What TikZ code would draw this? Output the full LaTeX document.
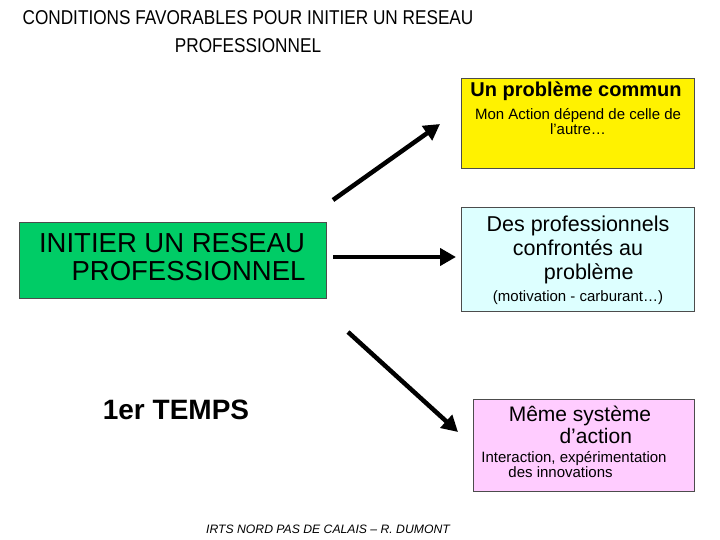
\documentclass[tikz,border=0pt]{standalone}
\usepackage{fontspec}
\setmainfont{Liberation Sans}
\usetikzlibrary{arrows.meta}
\begin{document}
\begin{tikzpicture}[x=1pt,y=-1pt,
  box/.style={draw=black!70,line width=0.8pt},
  small/.style={font=\fontsize{15}{15}\selectfont,align=center},
  arr/.style={line width=4.5pt,-{Triangle[length=16pt,width=17pt]}}]
\useasboundingbox (0,0) rectangle (720,540);
\node[font=\fontsize{20}{28}\selectfont,align=center,xscale=0.86] (title) at (248,32) {CONDITIONS FAVORABLES POUR INITIER UN RESEAU\\PROFESSIONNEL};
\filldraw[box,fill=yellow] (461,78) rectangle (694,168);
\node[font=\bfseries\fontsize{20}{22}\selectfont] (t1) at (576,91) {Un problème commun};
\node[small] (t1b) at (578,122) {Mon Action dépend de celle de\\ l’autre…};
\coordinate (yb) at (440,124);
\filldraw[box,fill={rgb,255:red,0;green,204;blue,102}] (19,222) rectangle (326,298);
\node[font=\fontsize{27.5}{28}\selectfont,align=center] (g) at (172,257) {INITIER UN RESEAU\\\hspace*{1.2em}PROFESSIONNEL};
\filldraw[box,fill={rgb,255:red,221;green,255;blue,255}] (461,207) rectangle (694,311);
\node[font=\fontsize{21.5}{24}\selectfont,align=center] (t2) at (578,250) {Des professionnels\\ confrontés au\\ \hspace*{1em}problème};
\node[small] (t2b) at (578,298) {(motivation - carburant…)};
\filldraw[box,fill={rgb,255:red,255;green,204;blue,255}] (473,399) rectangle (694,491);
\node[font=\fontsize{21}{22}\selectfont,align=center] (t3) at (580,425) {Même système\\ \hspace*{1.5em}d’action};
\node[small,align=left] (t3b) at (574,465) {Interaction, expérimentation\\ \hspace*{1.8em}des innovations};
\node[font=\bfseries\fontsize{28}{30}\selectfont] (temps) at (176,410) {1er TEMPS};
\node[font=\itshape\fontsize{12.2}{13}\selectfont] (foot) at (328,529) {IRTS NORD PAS DE CALAIS – R. DUMONT};
\coordinate (a1) at (333,200);
\coordinate (a2) at (333,257);
\coordinate (b2) at (456,257);
\coordinate (a3) at (348,332);
\coordinate (b3) at (458,432);
\draw[arr] (a1) -- (yb);
\draw[arr] (a2) -- (b2);
\draw[arr] (a3) -- (b3);
\end{tikzpicture}
\end{document}
